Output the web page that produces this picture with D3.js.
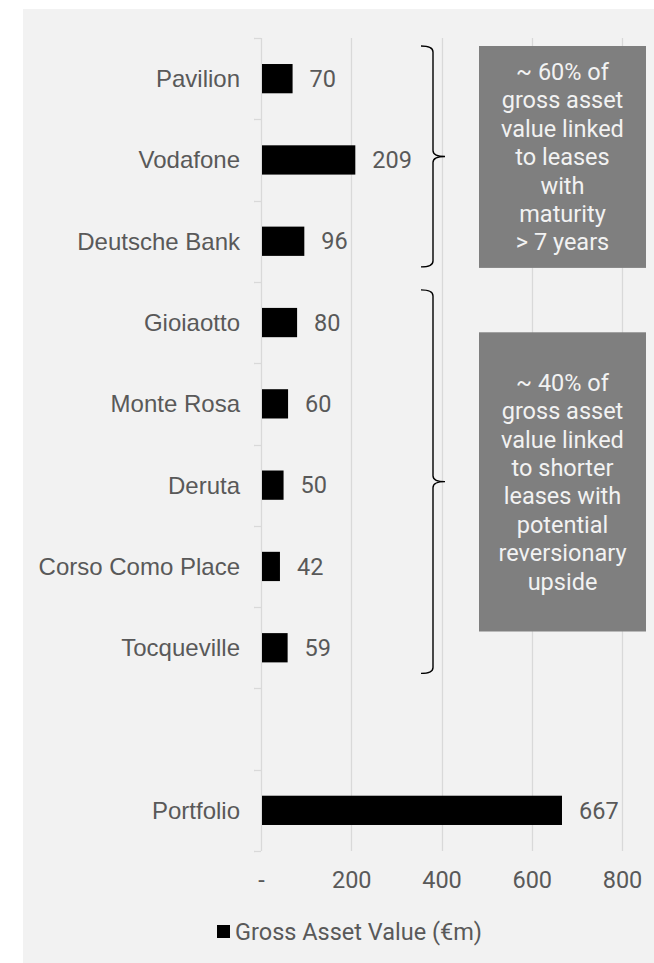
<!DOCTYPE html>
<html>
<head>
<meta charset="utf-8">
<script src="https://cdn.jsdelivr.net/npm/d3@7"></script>
<style>
  body { margin: 0; background: #ffffff; }
</style>
</head>
<body>
<div id="chart"></div>
<script>
// data
var categories = ["Pavilion", "Vodafone", "Deutsche Bank", "Gioiaotto", "Monte Rosa",
                  "Deruta", "Corso Como Place", "Tocqueville", "", "Portfolio"]
var values = [70, 209, 96, 80, 60, 50, 42, 59, null, 667]
var xTicks = [0, 200, 400, 600, 800]
var seriesName = "Gross Asset Value (€m)"
var notes = [
    { from: "Pavilion", to: "Deutsche Bank",
      lines: ["~ 60% of", "gross asset", "value linked", "to leases", "with", "maturity", "> 7 years"] },
    { from: "Gioiaotto", to: "Tocqueville",
      lines: ["~ 40% of", "gross asset", "value linked", "to shorter", "leases with", "potential", "reversionary", "upside"] }
]

var W = 654, H = 963
var margin = { top: 38, left: 261 }
var width = 361, height = 813
var textColor = "#595959"
var gridColor = "#d9d9d9"

var root = d3.select("#chart")
    .append("svg")
        .attr("width", W)
        .attr("height", H)

root.append("rect")
    .attr("x", 23)
    .attr("y", 9)
    .attr("width", W - 23)
    .attr("height", H - 9)
    .attr("fill", "#f2f2f2")

var svg = root.append("g")
    .attr("transform", "translate(" + margin.left + "," + margin.top + ")")

var x = d3.scaleLinear()
    .domain([0, 800])
    .range([0, width])

var y = d3.scaleBand()
    .domain(categories)
    .range([0, height])
    .padding(0)

var step = y.step()

// vertical gridlines (first one doubles as the axis line)
svg.append("g")
    .selectAll("line")
    .data(xTicks)
    .join("line")
        .attr("x1", function(d) { return Math.round(x(d)) + 0.5 })
        .attr("x2", function(d) { return Math.round(x(d)) + 0.5 })
        .attr("y1", 0)
        .attr("y2", height)
        .attr("stroke", gridColor)
        .attr("stroke-width", 1.3)

// category boundary ticks
var bounds = categories.map(function(c) { return y(c) }).concat([height])
svg.append("g")
    .selectAll("line")
    .data(bounds)
    .join("line")
        .attr("x1", -7)
        .attr("x2", 0)
        .attr("y1", function(d) { return Math.round(d) + 0.5 })
        .attr("y2", function(d) { return Math.round(d) + 0.5 })
        .attr("stroke", gridColor)
        .attr("stroke-width", 1.3)

// x axis labels
var xAxis = svg.append("g")
    .attr("transform", "translate(0," + height + ")")
    .call(d3.axisBottom(x)
        .tickValues(xTicks)
        .tickSize(0)
        .tickPadding(20)
        .tickFormat(function(d) { return d === 0 ? "-" : d }))
xAxis.select(".domain").remove()
xAxis.selectAll("text")
    .attr("fill", textColor)
    .style("font-family", "Roboto, sans-serif")
    .style("font-size", "23.5px")

// y axis labels
var yAxis = svg.append("g")
    .call(d3.axisLeft(y).tickSize(0).tickPadding(21))
yAxis.select(".domain").remove()
yAxis.selectAll("text")
    .attr("fill", textColor)
    .attr("dy", "0.35em")
    .style("font-family", "'Liberation Sans', Arial, sans-serif")
    .style("font-size", "24px")

var rows = categories.map(function(c, i) { return { name: c, value: values[i] } })
    .filter(function(d) { return d.value != null })

var barH = step * 0.36

svg.append("g")
    .selectAll("rect")
    .data(rows)
    .join("rect")
        .attr("x", x(0) + 1)
        .attr("y", function(d) { return y(d.name) + (step - barH) / 2 })
        .attr("width", function(d) { return x(d.value) - x(0) - 1 })
        .attr("height", barH)
        .attr("fill", "#000000")

svg.append("g")
    .selectAll("text")
    .data(rows)
    .join("text")
        .attr("x", function(d) { return x(d.value) + 17 })
        .attr("y", function(d) { return y(d.name) + step / 2 })
        .attr("dy", "0.35em")
        .attr("fill", textColor)
        .style("font-family", "Roboto, sans-serif")
        .style("font-size", "23.5px")
        .text(function(d) { return d.value })

// braces and grey note boxes
var braceX = 172, armX = 160, tipX = 184
var boxX0 = 218, boxX1 = 385
var lineH = 28.4

notes.forEach(function(n, i) {
    var top = y(n.from) + 8
    var bot = y(n.to) + step - 15
    var mid = (top + bot) / 2
    var r = 6
    var p = d3.path()
    p.moveTo(armX, top)
    p.quadraticCurveTo(braceX, top, braceX, top + r)
    p.lineTo(braceX, mid - r)
    p.quadraticCurveTo(braceX, mid, tipX, mid)
    p.quadraticCurveTo(braceX, mid, braceX, mid + r)
    p.lineTo(braceX, bot - r)
    p.quadraticCurveTo(braceX, bot, armX, bot)
    svg.append("path")
        .attr("d", p.toString())
        .attr("fill", "none")
        .attr("stroke", "#000000")
        .attr("stroke-width", 1.4)

    var bTop = i === 0 ? top : y(n.from) + step * 0.62
    var bBot = i === 0 ? bot + 1 : y(n.to) + step * 0.3
    svg.append("rect")
        .attr("x", boxX0)
        .attr("y", bTop)
        .attr("width", boxX1 - boxX0)
        .attr("height", bBot - bTop)
        .attr("fill", "#7f7f7f")

    var cy = (bTop + bBot) / 2
    var first = cy - (n.lines.length - 1) * lineH / 2
    svg.append("text")
        .attr("text-anchor", "middle")
        .attr("fill", "#f2f2f2")
        .style("font-family", "Roboto, sans-serif")
        .style("font-size", "23.5px")
        .selectAll("tspan")
        .data(n.lines)
        .join("tspan")
            .attr("x", (boxX0 + boxX1) / 2)
            .attr("y", function(d, j) { return first + j * lineH })
            .attr("dy", "0.35em")
            .text(function(d) { return d })
})

// legend
var legend = root.append("g")
    .attr("transform", "translate(217,925)")
legend.append("rect")
    .attr("width", 13)
    .attr("height", 13)
    .attr("fill", "#000000")
legend.append("text")
    .attr("x", 18)
    .attr("y", 15)
    .attr("fill", textColor)
    .style("font-family", "Roboto, sans-serif")
    .style("font-size", "23.5px")
    .text(seriesName)
</script>
</body>
</html>
